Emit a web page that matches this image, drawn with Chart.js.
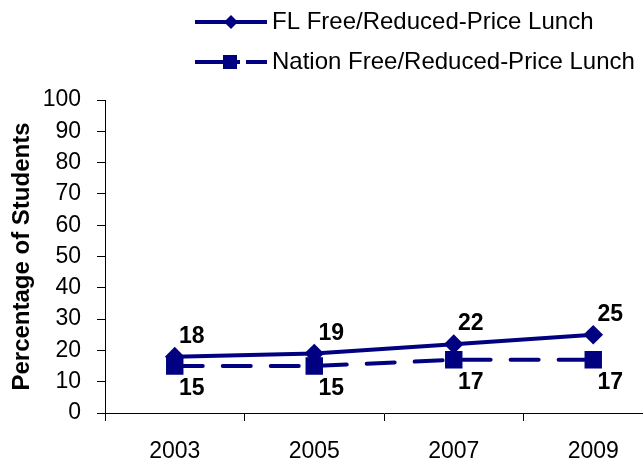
<!DOCTYPE html>
<html>
<head>
<meta charset="utf-8">
<script src="https://cdn.jsdelivr.net/npm/chart.js@4"></script>
<style>
  html, body { margin: 0; padding: 0; background: #fff; overflow: hidden; }
  #wrap { width: 643px; height: 465px; overflow: hidden; }
</style>
</head>
<body>
<div id="wrap"><canvas id="lunchChart" width="665" height="465"></canvas></div>
<script>
const years = ['2003', '2005', '2007', '2009'];
const flLunch = [18, 19, 22, 25];
const nationLunch = [15, 15, 17, 17];
const seriesNames = ['FL Free/Reduced-Price Lunch', 'Nation Free/Reduced-Price Lunch'];

const navy = '#000080';
const fontFamily = '"Liberation Sans", Arial, sans-serif';

// value labels: FL above the line, Nation below
const valueLabels = {
  id: 'valueLabels',
  afterDatasetsDraw(chart) {
    const ctx = chart.ctx;
    ctx.save();
    ctx.font = 'bold 23px ' + fontFamily;
    ctx.fillStyle = '#000';
    ctx.textAlign = 'center';
    ctx.textBaseline = 'middle';
    chart.data.datasets.forEach((ds, i) => {
      chart.getDatasetMeta(i).data.forEach((pt, j) => {
        const dy = i === 0 ? -20 : 23;
        ctx.fillText(String(ds.data[j]), pt.x + 17, pt.y + dy);
      });
    });
    ctx.restore();
  }
};

// legend with line samples in the top right
const lineLegend = {
  id: 'lineLegend',
  afterDraw(chart) {
    const ctx = chart.ctx;
    ctx.save();
    ctx.strokeStyle = navy;
    ctx.fillStyle = navy;
    ctx.lineWidth = 4;
    // FL row
    let y = 22;
    ctx.beginPath(); ctx.moveTo(195, y); ctx.lineTo(267, y); ctx.stroke();
    ctx.beginPath();
    ctx.moveTo(231, y - 7); ctx.lineTo(238, y); ctx.lineTo(231, y + 7); ctx.lineTo(224, y);
    ctx.closePath(); ctx.fill();
    // Nation row
    y = 62;
    ctx.beginPath(); ctx.moveTo(195, y); ctx.lineTo(240, y); ctx.stroke();
    ctx.beginPath(); ctx.moveTo(246, y); ctx.lineTo(267, y); ctx.stroke();
    ctx.fillRect(223, y - 7, 14, 14);
    ctx.fillStyle = '#000';
    ctx.font = '24px ' + fontFamily;
    ctx.textBaseline = 'middle';
    ctx.fillText(seriesNames[0], 272, 22);
    ctx.fillText(seriesNames[1], 272, 62);
    ctx.restore();
  }
};

new Chart(document.getElementById('lunchChart').getContext('2d'), {
  type: 'line',
  data: {
    labels: years,
    datasets: [{
      label: seriesNames[0],
      data: flLunch,
      borderColor: navy,
      backgroundColor: navy,
      borderWidth: 4,
      pointStyle: 'rectRot',
      pointRadius: 7,
      pointHoverRadius: 7,
      tension: 0
    }, {
      label: seriesNames[1],
      data: nationLunch,
      borderColor: navy,
      backgroundColor: navy,
      borderWidth: 4,
      borderDash: [28, 20],
      borderCapStyle: 'round',
      pointStyle: 'rect',
      pointRadius: 9.5,
      pointHoverRadius: 9.5,
      tension: 0
    }]
  },
  options: {
    responsive: false,
    animation: false,
    layout: { autoPadding: false, padding: { top: 100, right: 2, left: 0, bottom: 0 } },
    plugins: {
      legend: { display: false },
      tooltip: { enabled: false }
    },
    scales: {
      x: {
        offset: true,
        afterFit: (s) => { s.height = 52; },
        grid: { display: true, offset: true, drawOnChartArea: false, color: '#000', tickLength: 8 },
        border: { color: '#000', width: 1 },
        ticks: { color: '#000', font: { family: fontFamily, size: 23 }, padding: 17, maxRotation: 0 }
      },
      y: {
        min: 0,
        max: 100,
        afterFit: (s) => { s.width = 105; },
        grid: { display: true, drawOnChartArea: false, color: '#000', tickLength: 8 },
        border: { color: '#000', width: 1 },
        ticks: { stepSize: 10, color: '#000', font: { family: fontFamily, size: 23 }, padding: 16 },
        title: {
          display: true,
          text: 'Percentage of Students',
          color: '#000',
          font: { family: fontFamily, size: 24, weight: 'bold' },
          padding: { top: 8, bottom: 0 }
        }
      }
    }
  },
  plugins: [valueLabels, lineLegend]
});
</script>
</body>
</html>
